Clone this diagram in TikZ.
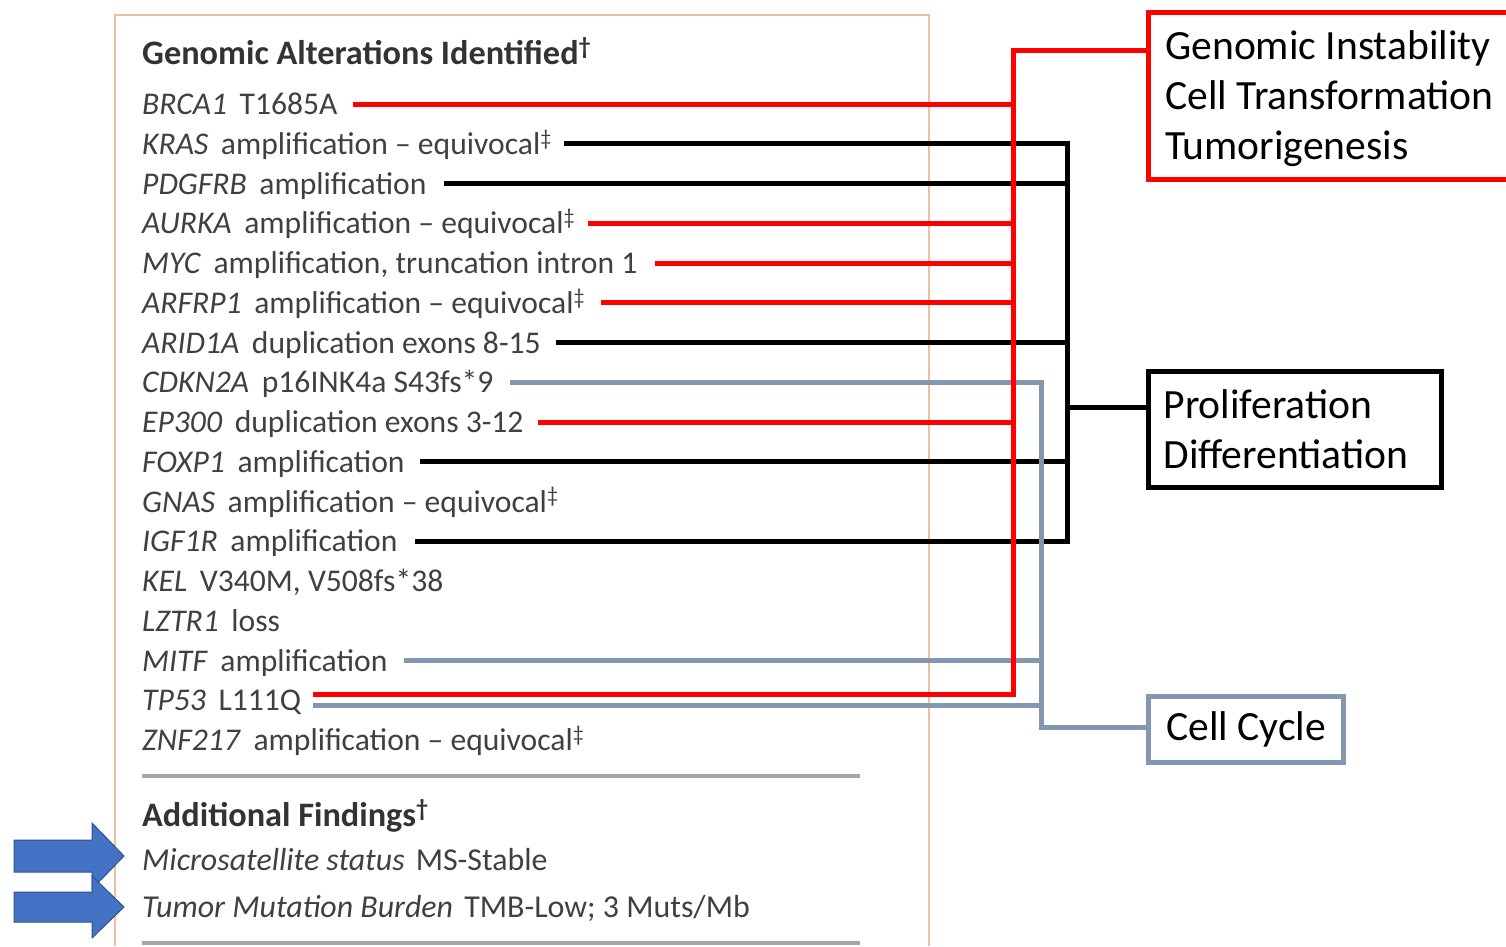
\documentclass[tikz,border=0pt]{standalone}
\usepackage{fontspec}
\setmainfont{Carlito}
\usetikzlibrary{calc}
\definecolor{rline}{HTML}{FF0000}
\definecolor{gline}{HTML}{8497B0}
\definecolor{txt}{HTML}{404040}
\definecolor{ttl}{HTML}{333333}
\definecolor{framec}{HTML}{EDBFA6}
\definecolor{sepc}{HTML}{A5A5A5}
\definecolor{afill}{HTML}{4472C4}
\definecolor{aedge}{HTML}{2F528F}
\begin{document}
\begin{tikzpicture}[x=1pt,y=-1pt,
  row/.style={anchor=west, inner sep=0pt, text height=21pt, text depth=0pt,
    font=\fontsize{31.6}{37}\selectfont, text=txt},
  head/.style={anchor=base west, inner sep=0pt, text=ttl},
  redln/.style={draw=rline, line width=5pt},
  blkln/.style={draw=black, line width=5pt},
  gryln/.style={draw=gline, line width=5pt},
  catbox/.style={line width=5pt, inner ysep=0pt, font=\fontsize{41.6}{50}\selectfont, text=black},
  blockarrow/.style={fill=afill, draw=aedge, line width=1pt, line join=miter}
]
\useasboundingbox (0,0) rectangle (1506,946);

% frame
\draw[framec, line width=1.5pt] (115,946) -- (115,15) -- (929,15) -- (929,946);

% headings
\node[head, font=\fontsize{34.3}{40}\selectfont\bfseries] (title) at (142,64) {Genomic Alterations Identified\textsuperscript{†}};

% rows
\newcommand{\gn}[1]{\textit{#1}\hspace{0.4em}}
\node[row] (brca)  at (142,104)    {\gn{BRCA1}T1685A};
\node[row] (kras)  at (142,143.75) {\gn{KRAS}amplification – equivocal\textsuperscript{‡}};
\node[row] (pdgf)  at (142,183.5)  {\gn{PDGFRB}amplification};
\node[row] (aurka) at (142,223.25) {\gn{AURKA}amplification – equivocal\textsuperscript{‡}};
\node[row] (myc)   at (142,263)    {\gn{MYC}amplification, truncation intron 1};
\node[row] (arf)   at (142,302.75) {\gn{ARFRP1}amplification – equivocal\textsuperscript{‡}};
\node[row] (arid)  at (142,342.5)  {\gn{ARID1A}duplication exons 8-15};
\node[row] (cdkn)  at (142,382.25) {\gn{CDKN2A}p16INK4a S43fs*9};
\node[row] (ep)    at (142,422)    {\gn{EP300}duplication exons 3-12};
\node[row] (foxp)  at (142,461.75) {\gn{FOXP1}amplification};
\node[row] (gnas)  at (142,501.5)  {\gn{GNAS}amplification – equivocal\textsuperscript{‡}};
\node[row] (igf)   at (142,541.25) {\gn{IGF1R}amplification};
\node[row] (kel)   at (142,581)    {\gn{KEL}V340M, V508fs*38};
\node[row] (lztr)  at (142,620.75) {\gn{LZTR1}loss};
\node[row] (mitf)  at (142,660.5)  {\gn{MITF}amplification};
\node[row] (tp)    at (142,700.25) {\gn{TP53}L111Q};
\node[row] (znf)   at (142,740)    {\gn{ZNF217}amplification – equivocal\textsuperscript{‡}};

% separators
\draw[sepc, line width=3.5pt] (142,776) -- (860,776);
\draw[sepc, line width=3.5pt] (142,943) -- (860,943);

\node[head, font=\fontsize{34.3}{40}\selectfont\bfseries] (addf) at (142,826) {Additional Findings\textsuperscript{†}};
\node[head, font=\fontsize{31.9}{38}\selectfont, text=txt] (msi) at (142,870) {\textit{Microsatellite status}\hspace{0.35em}MS-Stable};
\node[head, font=\fontsize{31.9}{38}\selectfont, text=txt] (tmb) at (142,917) {\textit{Tumor Mutation Burden}\hspace{0.35em}TMB-Low; 3 Muts/Mb};

% blue arrows
\draw[blockarrow] (14,840) -- (92,840) -- (92,823) -- (124,856) -- (92,889) -- (92,872) -- (14,872) -- cycle;
\draw[blockarrow] (14,892) -- (92,892) -- (92,876) -- (124,907) -- (92,938) -- (92,922) -- (14,922) -- cycle;

% category boxes
\draw[rline, line width=5pt] (1506,12.5) -- (1148.5,12.5) -- (1148.5,179.5) -- (1506,179.5);
\node[anchor=west, align=left, inner sep=0pt, font=\fontsize{41.6}{50}\selectfont] (gi) at (1165,99) {Genomic Instability\\Cell Transformation\\Tumorigenesis};
\coordinate (gientry) at (1148.5,50);

\node[catbox, draw=black, anchor=north west, minimum width=293pt, minimum height=116pt,
  text width=263pt, inner xsep=15pt, align=left] (pd) at (1146,369) {Proliferation\\Differentiation};
\node[catbox, draw=gline, anchor=north west, minimum width=195pt, minimum height=66pt,
  inner xsep=15pt] (cc) at (1146,694) {Cell Cycle};

% bus coordinates
\coordinate (rx) at (1013,0);
\coordinate (gx) at (1041,0);
\coordinate (bx) at (1067,0);
\coordinate (bjoin) at (1067,407);
\coordinate (gcorner) at (1041,727);

% black connectors
\draw[blkln] ([xshift=12pt]kras.east) -| (igf.east -| bx) -- ([xshift=17pt]igf.east);
\draw[blkln] ([xshift=17pt]pdgf.east) -- (pdgf.east -| bx);
\draw[blkln] ([xshift=15pt]arid.east) -- (arid.east -| bx);
\draw[blkln] ([xshift=15pt]foxp.east) -- (foxp.east -| bx);
\draw[blkln] (bjoin) -- (bjoin -| pd.west);

% gray connectors
\draw[gryln] ([xshift=16pt]cdkn.east) -| (gcorner) -- (gcorner -| cc.west);
\draw[gryln] ([xshift=16pt]mitf.east) -- (mitf.east -| gx);
\draw[gryln] ($(tp.east)+(12,5)$) -- ($(tp.east -| gx)+(0,5)$);

% red connectors
\draw[redln] ($(tp.east)+(12,-6)$) -| (gientry -| rx) -- (gientry);
\draw[redln] ([xshift=15pt]brca.east) -- (brca.east -| rx);
\draw[redln] ([xshift=13pt]aurka.east) -- (aurka.east -| rx);
\draw[redln] ([xshift=17pt]myc.east) -- (myc.east -| rx);
\draw[redln] ([xshift=16pt]arf.east) -- (arf.east -| rx);
\draw[redln] ([xshift=14pt]ep.east) -- (ep.east -| rx);
\end{tikzpicture}
\end{document}
